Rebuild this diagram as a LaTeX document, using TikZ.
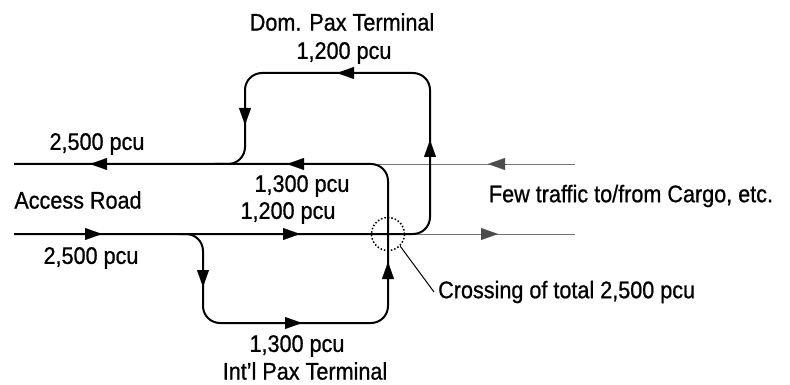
\documentclass[tikz,border=0pt]{standalone}
\usepackage{fontspec}
\setmainfont{Liberation Sans}[FakeStretch=0.9,FakeBold=0.8]
\usetikzlibrary{arrows.meta,shapes.geometric}
\begin{document}
\begin{tikzpicture}[x=1pt,y=-1pt,
  road/.style={line width=2pt,rounded corners=17pt},
  thin/.style={line width=0.9pt,black!55},
  arr/.style={line width=0.1pt,-{Triangle[length=17pt,width=12pt]}},
  lbl/.style={inner sep=0pt,font=\fontsize{24}{28}\selectfont}]
\useasboundingbox (0,0) rectangle (790,385);
% coordinates
\coordinate (uL) at (14,164);
\coordinate (lL) at (14,234);
\coordinate (uR) at (575,164);
\coordinate (lR) at (575,234);
% thin outer lines to/from cargo
\draw[thin] (370,164) -- (uR);
\draw[thin] (405,234) -- (lR);
% Int'l loop (branch off lower road, back onto upper road)
\draw[road] (180,234) -- (203,234) -- (203,323) -- (388,323) -- (388,164) -- (uL);
% lower road and Dom. loop
\draw[road] (lL) -- (430,234) -- (430,73) -- (245,73) -- (245,164) -- (215,164);
% arrows
\draw[arr] (107,164) -- (90,164);
\draw[arr] (304,164) -- (287,164);
\draw[arr] (85,234) -- (102,234);
\draw[arr] (283,234) -- (300,234);
\draw[arr] (203,270) -- (203,287);
\draw[arr] (285,323) -- (302,323);
\draw[arr] (388,279) -- (388,262);
\draw[arr] (430,157) -- (430,140);
\draw[arr] (354,73) -- (337,73);
\draw[arr] (245,108) -- (245,125);
\draw[arr,black!70] (505,164) -- (488,164);
\draw[arr,black!70] (481,234) -- (498,234);
% crossing circle
\node[circle,draw,dotted,line width=1.5pt,minimum size=33pt,inner sep=0pt] (cross) at (388,234) {};
% labels
\node[lbl] (dom) at (342,22) {Dom. Pax Terminal};
\node[lbl] (d12) at (344,53) {1,200 pcu};
\node[lbl] (u25) at (97,144) {2,500 pcu};
\node[lbl] (acc) at (78,200) {Access Road};
\node[lbl] (m13) at (302,186) {1,300 pcu};
\node[lbl] (m12) at (288,213) {1,200 pcu};
\node[lbl] (l25) at (91,258) {2,500 pcu};
\node[lbl] (b13) at (297,346) {1,300 pcu};
\node[lbl] (intl) at (305,371) {Int'l Pax Terminal};
\node[lbl] (few) at (631,196) {Few traffic to/from Cargo, etc.};
\node[lbl,anchor=west] (crs) at (438,292) {Crossing of total 2,500 pcu};
\draw[line width=1pt] (cross.-45) -- ([xshift=-4pt]crs.west);
\end{tikzpicture}
\end{document}
